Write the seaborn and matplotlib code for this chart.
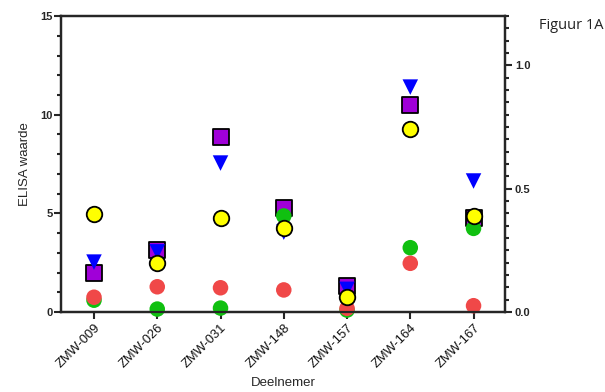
import numpy as np
import pandas as pd
import matplotlib.pyplot as plt
import seaborn as sns
from matplotlib.ticker import MultipleLocator, FormatStrFormatter

# values (ELISA units, left axis)
deelnemers = ["ZMW-009", "ZMW-026", "ZMW-031", "ZMW-148", "ZMW-157", "ZMW-164", "ZMW-167"]
squares = [2.0, 3.15, 8.87, 5.27, 1.32, 10.5, 4.76]
triangles = [2.53, 3.05, 7.55, 4.05, 1.15, 11.4, 6.64]
green = [0.6, 0.15, 0.2, 4.87, 0.1, 3.26, 4.24]
red = [0.75, 1.28, 1.23, 1.12, 0.19, 2.47, 0.32]
yellow = [4.97, 2.5, 4.77, 4.27, 0.74, 9.27, 4.88]

# series name, values, marker, face, edge (draw order)
series = [
    ("square", squares, "s", "#A000D8", "black"),
    ("triangle", triangles, "v", "#0000FF", "none"),
    ("green", green, "o", "#10C010", "none"),
    ("red", red, "o", "#F04848", "none"),
    ("yellow", yellow, "o", "#FFFF00", "black"),
]

sns.set_style("white")
plt.rcParams["font.family"] = ["Liberation Sans", "DejaVu Sans"]

fig = plt.figure(figsize=(6.05, 3.92), dpi=100)
ax = fig.add_axes([0.101, 0.204, 0.734, 0.755])

for name, vals, mk, fc, ec in series:
    df = pd.DataFrame({"Deelnemer": deelnemers, "waarde": vals})
    sns.scatterplot(data=df, x="Deelnemer", y="waarde", marker=mk, s=125,
                    color=fc, edgecolor=ec, linewidth=1.3 if ec != "none" else 0,
                    ax=ax, zorder=3, clip_on=False)

ax.set_xlim(-0.52, 6.5)
ax.set_ylim(0, 15)
ax.yaxis.set_major_locator(MultipleLocator(5))
ax.yaxis.set_minor_locator(MultipleLocator(1))
ax.tick_params(axis="y", which="major", length=5, width=1.5, labelsize=8, pad=1)
ax.tick_params(axis="y", which="minor", length=3, width=1.5, left=True)
ax.tick_params(axis="x", length=5, width=1.5, labelsize=9.3, bottom=True, pad=2,
               labelcolor="#111111")
for lbl in ax.get_yticklabels():
    lbl.set_fontweight("bold")
plt.setp(ax.get_xticklabels(), rotation=45, ha="right", rotation_mode="anchor")

ax.set_xlabel("Deelnemer", fontsize=9.5, labelpad=5)
ax.set_ylabel("ELISA waarde", fontsize=9.5, labelpad=7)
for sp in ax.spines.values():
    sp.set_linewidth(1.6)
    sp.set_color("black")

ax2 = ax.twinx()
ax2.set_ylim(0, 1.2)
ax2.yaxis.set_major_locator(MultipleLocator(0.5))
ax2.yaxis.set_minor_locator(MultipleLocator(0.05))
ax2.yaxis.set_major_formatter(FormatStrFormatter("%.1f"))
ax2.tick_params(axis="y", which="major", length=5, width=1.5, labelsize=8, pad=2)
ax2.tick_params(axis="y", which="minor", length=3, width=1.5, right=True)
for lbl in ax2.get_yticklabels():
    lbl.set_fontweight("bold")
for sp in ax2.spines.values():
    sp.set_linewidth(1.6)

fig.text(0.998, 0.935, "Figuur 1A", ha="right", va="center", fontsize=10.5,
         family="Open Sans", color="#222222")

fig.savefig("out.png", dpi=100)
